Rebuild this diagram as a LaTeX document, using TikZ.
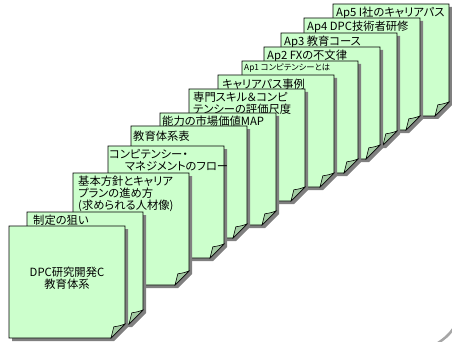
\documentclass[tikz,border=0pt]{standalone}
\usepackage{fontspec}
\newfontfamily\jpfont[RawFeature=+palt]{Noto Sans CJK JP}

\definecolor{pagefill}{HTML}{CCFFCC}
\definecolor{curlfill}{HTML}{A3CCA3}
\definecolor{pageshadow}{HTML}{808080}

\tikzset{
  sheet/.pic={
    \fill[pageshadow] (3,3) -- (119,3) -- (119,101) -- (105,115) -- (3,115) -- cycle;
    \filldraw[fill=pagefill, draw=black, line width=0.8pt]
      (0,0) -- (116,0) -- (116,98) -- (102,112) -- (0,112) -- cycle;
    \filldraw[fill=curlfill, draw=black, line width=0.6pt]
      (102,112) -- (104.8,100.8) .. controls (108,100.4) and (112,99.6) .. (116,98) -- cycle;
  },
  tag/.style={
    anchor=north west,
    inner sep=0pt,
    align=left
  },
  smalltag/.style={
    tag,
    font=\jpfont\fontsize{8.3}{9}\selectfont
  },
}

\begin{document}
\begin{tikzpicture}[x=1pt, y=-1pt, font=\jpfont\fontsize{11.3}{11.8}\selectfont]
  \useasboundingbox (0,0) rectangle (452,342);
  % back to front
  \pic (s13) at (333,4) {sheet};
  \node[tag] (ap5) at (336,7) {Ap5 I社のキャリアパス};
  \pic (s12) at (304,18) {sheet};
  \node[tag] (ap4) at (307,21) {Ap4 DPC技術者研修};
  \pic (s11) at (281,33) {sheet};
  \node[tag] (ap3) at (284,36) {Ap3 教育コース};
  \pic (s10) at (264,47) {sheet};
  \node[tag] (ap2) at (267,50) {Ap2 FXの不文律};
  \pic (s9) at (242,61) {sheet};
  \node[smalltag] (ap1) at (244,64) {Ap1 コンピテンシーとは};
  \pic (s8) at (218,75) {sheet};
  \node[tag] (career) at (222,79) {キャリアパス事例};
  \pic (s7) at (189,89) {sheet};
  \node[tag] (skill) at (193,92) {専門スキル＆コンピ\\テンシーの評価尺度};
  \pic (s6) at (160,113) {sheet};
  \node[tag] (market) at (162,116) {能力の市場価値MAP};
  \pic (s5) at (131,126) {sheet};
  \node[tag] (table) at (133,131) {教育体系表};
  \pic (s4) at (108,146) {sheet};
  \node[tag] (flow) at (109,149) {コンピテンシー・\\\hspace{1.4em}マネジメントのフロー};
  \pic (s3) at (73,173) {sheet};
  \node[tag] (policy) at (78,176) {基本方針とキャリア\\プランの進め方\\(求められる人材像)};
  \pic (s2) at (27,212) {sheet};
  \node[tag] (aim) at (33,215) {制定の狙い};
  \pic (s1) at (9,226) {sheet};
  \node[align=center, inner sep=0pt] (system) at (67,278) {DPC研究開発C\\教育体系};
  % edge of the backdrop
  \draw[gray!70, line width=2.5pt] (438,343) .. controls (444,339) and (449,335) .. (453,329);
\end{tikzpicture}
\end{document}
